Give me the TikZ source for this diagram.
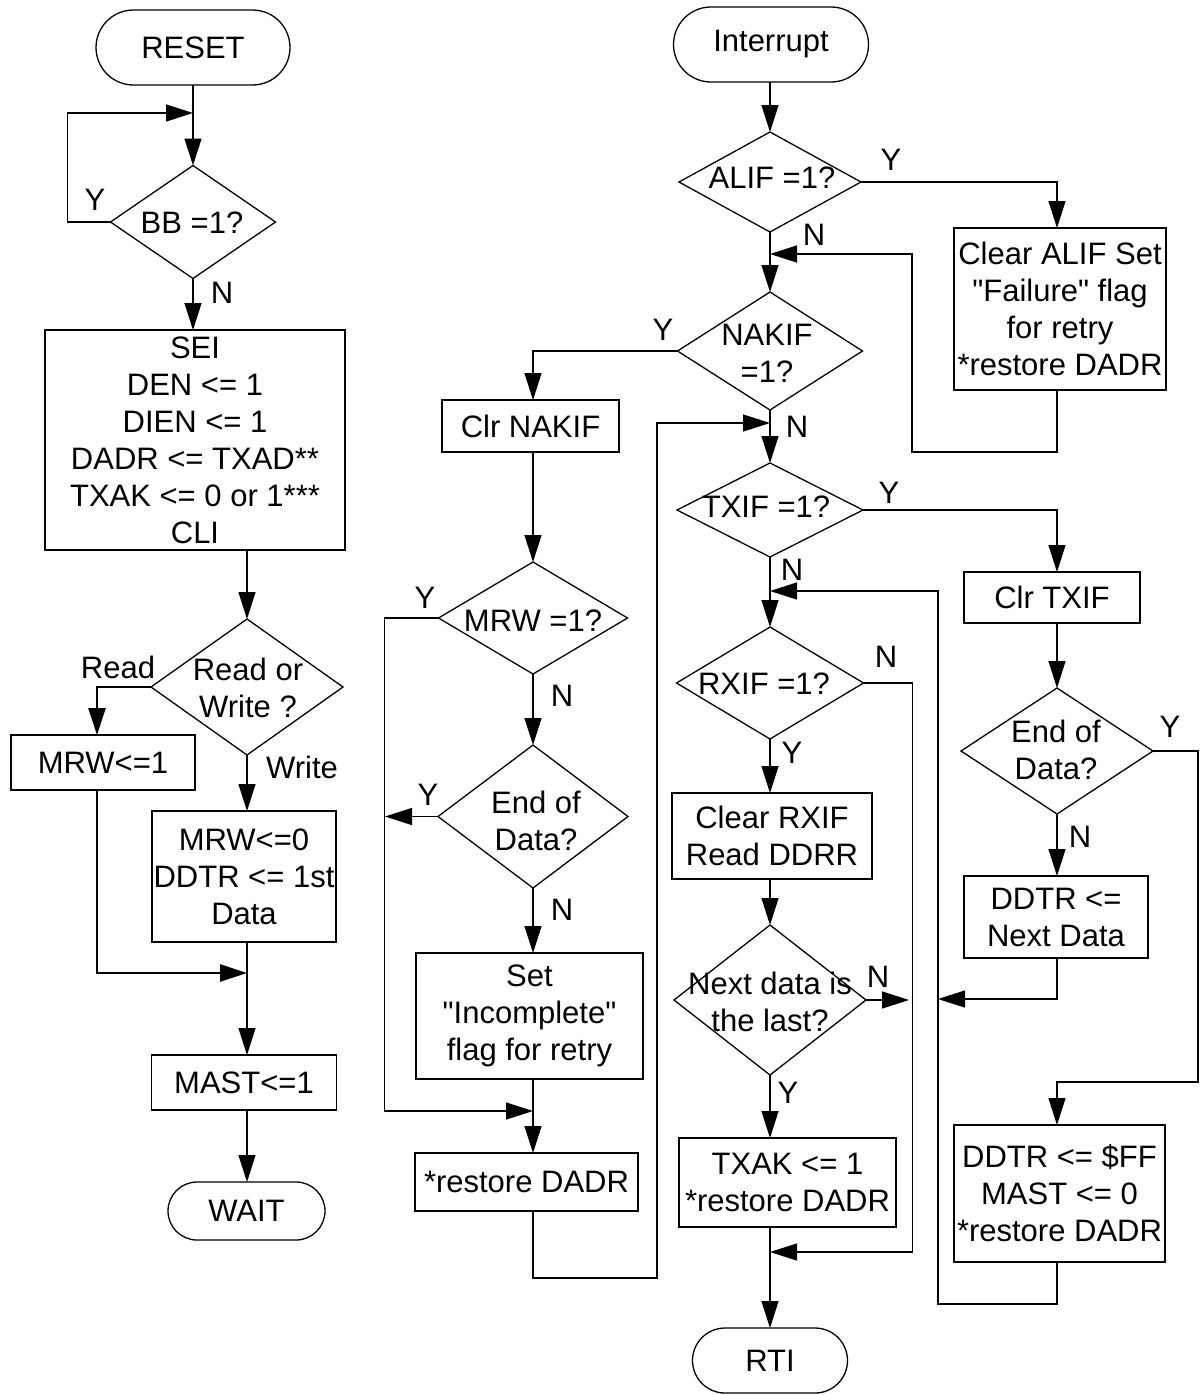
\documentclass[tikz,border=0pt]{standalone}
\usepackage{fontspec}
\setmainfont{Liberation Sans}
\usetikzlibrary{shapes.geometric,shapes.misc,arrows.meta}
\begin{document}
\begin{tikzpicture}[x=1pt,y=-1pt,
  every node/.style={font=\fontsize{31}{37}\selectfont, inner sep=0pt, outer sep=0pt},
  box/.style={rectangle, draw, line width=1.3pt, align=center},
  term/.style={rounded rectangle, draw, line width=1.3pt},
  dia/.style={diamond, draw, line width=1.3pt},
  txt/.style={align=center},
  arr/.style={line width=1.3pt, -{Triangle[length=27pt,width=17pt]}},
  tarr/.style={line width=2.6pt, -{Triangle[length=27pt,width=17pt]}},
]
\useasboundingbox (0,0) rectangle (1201,1395);

% ---------- left column ----------
\node[term, minimum width=194pt, minimum height=75pt] (reset) at (193,47.5) {RESET};
\node[dia, minimum width=165pt, minimum height=113pt] (bb) at (193,222) {};
\node[txt] (bbt) at (192,223) {BB =1?};
\node[box, minimum width=300pt, minimum height=220pt] (sei) at (195,440) {SEI\\DEN <= 1\\DIEN <= 1\\DADR <= TXAD**\\TXAK <= 0 or 1***\\CLI};
\node[dia, minimum width=192pt, minimum height=136pt] (rw) at (247,687) {};
\node[txt] (rwt) at (248,688) {Read or\\Write ?};
\node[box, minimum width=184pt, minimum height=55pt] (mrw1) at (103,762.5) {MRW<=1};
\node[box, minimum width=184pt, minimum height=131pt] (mrw0) at (244,876.5) {MRW<=0\\DDTR <= 1st\\Data};
\node[box, minimum width=185pt, minimum height=55pt] (mast) at (244,1082.5) {MAST<=1};
\node[term, minimum width=157pt, minimum height=58pt] (wait) at (246.5,1211) {WAIT};

% ---------- middle column ----------
\node[term, minimum width=195pt, minimum height=75pt] (intr) at (771,44.5) {Interrupt};
\node[dia, minimum width=182pt, minimum height=100pt] (alif) at (770,182) {};
\node[txt] (alift) at (772,178) {ALIF =1?};
\node[dia, minimum width=185pt, minimum height=118pt] (nakif) at (770,351) {};
\node[txt] (nakift) at (767,353) {NAKIF\\=1?};
\node[box, minimum width=177pt, minimum height=52pt] (clrnakif) at (530.5,426) {Clr NAKIF};
\node[dia, minimum width=189pt, minimum height=112pt] (mrw) at (533,618) {};
\node[txt] (mrwt) at (533,621) {MRW =1?};
\node[dia, minimum width=190pt, minimum height=143pt] (eod1) at (533,816.5) {};
\node[txt] (eod1t) at (536,821) {End of\\Data?};
\node[box, minimum width=227pt, minimum height=126pt] (setinc) at (529.5,1016) {Set\\\textquotedbl Incomplete\textquotedbl\\flag for retry};
\node[box, minimum width=223pt, minimum height=58pt] (restore1) at (526.5,1182) {*restore DADR};
\node[dia, minimum width=186pt, minimum height=94pt] (txif) at (770,510) {};
\node[txt] (txift) at (766,507) {TXIF =1?};
\node[dia, minimum width=187pt, minimum height=112pt] (rxif) at (770,683) {};
\node[txt] (rxift) at (764,684) {RXIF =1?};
\node[box, minimum width=200pt, minimum height=86pt] (clrrxif) at (772,836) {Clear RXIF\\Read DDRR};
\node[dia, minimum width=192pt, minimum height=150pt] (next) at (770,1000) {};
\node[txt] (nextt) at (770,1002) {Next data is\\the last?};
\node[box, minimum width=217pt, minimum height=89pt] (txak) at (787.5,1182.5) {TXAK <= 1\\*restore DADR};
\node[term, minimum width=155pt, minimum height=65pt] (rti) at (770,1360.5) {RTI};

% ---------- right column ----------
\node[box, minimum width=212pt, minimum height=162pt] (clralif) at (1060,309) {Clear ALIF Set\\\textquotedbl Failure\textquotedbl{} flag\\for retry\\*restore DADR};
\node[box, minimum width=176pt, minimum height=51pt] (clrtxif) at (1052,597.5) {Clr TXIF};
\node[dia, minimum width=192pt, minimum height=126pt] (eod2) at (1057,751) {};
\node[txt] (eod2t) at (1056,750) {End of\\Data?};
\node[box, minimum width=184pt, minimum height=82pt] (ddnext) at (1056,917) {DDTR <=\\Next Data};
\node[box, minimum width=211pt, minimum height=137pt] (ddff) at (1059.5,1193.5) {DDTR <= \$FF\\MAST <= 0\\*restore DADR};

% ---------- junction coordinates ----------
\coordinate (j1) at (193,113);
\coordinate (j2) at (247,973);
\coordinate (j3) at (770,254);
\coordinate (j4) at (533,1111);
\coordinate (j6) at (770,423);
\coordinate (j7) at (770,1252);
\coordinate (j9) at (938,999);
\coordinate (j10) at (770,591);
\coordinate (rx) at (1057,0);

% ---------- connectors: left ----------
\draw[arr] (reset.south) -- (bb.north);
\draw[arr] (bb.west) -- ++(-43,0) |- (j1);
\draw[arr] (bb.south) -- (bb.south |- sei.north);
\draw[arr] (sei.south -| rw.north) -- (rw.north);
\draw[tarr] (rw.west) -| ([xshift=-6pt]mrw1.north);
\draw[arr] (rw.south) -- (rw.south |- mrw0.north);
\draw[tarr] ([xshift=-6pt]mrw1.south) |- (j2);
\draw[arr] (mrw0.south -| j2) -- (j2 |- mast.north);
\draw[arr] (mast.south -| j2) -- (j2 |- wait.north);

% ---------- connectors: middle ----------
\draw[arr] (intr.south -| alif.north) -- (alif.north);
\draw[arr] (alif.east) -| (clralif.north -| rx);
\draw[arr] (alif.south) -- (nakif.north);
\draw[arr] (clralif.south -| rx) -- ++(0,62) -- ++(-145,0) |- (j3);
\draw[arr] (nakif.west) -| (clrnakif.north -| mrw.north);
\draw[arr] (clrnakif.south -| mrw.north) -- (mrw.north);
\draw[arr] (mrw.west) -- ++(-54,0) |- (j4);
\draw[arr] (mrw.south) -- (eod1.north);
\draw[arr] (eod1.west) -- ++(-53,0);
\draw[arr] (eod1.south) -- (eod1.south |- setinc.north);
\draw[arr] (setinc.south -| eod1.south) -- (eod1.south |- restore1.north);
\draw[arr] (restore1.south -| eod1.south) -- ++(0,67) -- ++(124,0) |- (j6);
\draw[arr] (nakif.south) -- (txif.north);
\draw[arr] (txif.east) -| (clrtxif.north -| rx);
\draw[arr] (txif.south) -- (rxif.north);
\draw[arr] (rxif.south) -- (rxif.south |- clrrxif.north);
\draw[arr] (rxif.east) -- ++(49,0) |- (j7);
\draw[arr] (clrrxif.south -| next.north) -- (next.north);
\draw[arr] (next.east) -- ++(43,0);
\draw[arr] (next.south) -- (next.south |- txak.north);
\draw[arr] (txak.south -| rti.north) -- (rti.north);

% ---------- connectors: right ----------
\draw[arr] (clrtxif.south -| rx) -- (eod2.north);
\draw[arr] (eod2.east) -- ++(45,0) |- ([yshift=43pt]ddff.north -| rx) -- (ddff.north -| rx);
\draw[arr] (eod2.south) -- (eod2.south |- ddnext.north);
\draw[arr] (ddnext.south -| rx) |- (j9);
\draw[arr] (ddff.south -| rx) -- ++(0,42) -- ++(-119,0) |- (j10);

% ---------- branch labels ----------
\node (l1) at (95,200) {Y};
\node (l2) at (222,293) {N};
\node (l3) at (118,667) {Read};
\node (l4) at (302,767) {Write};
\node (l5) at (891,160) {Y};
\node (l6) at (814,235) {N};
\node (l7) at (663,330) {Y};
\node (l8) at (797,427) {N};
\node (l9) at (425,598) {Y};
\node (l10) at (562,696) {N};
\node (l11) at (428,795) {Y};
\node (l12) at (562,910) {N};
\node (l13) at (889,493) {Y};
\node (l14) at (792,570) {N};
\node (l15) at (886,657) {N};
\node (l16) at (792,753) {Y};
\node (l17) at (878,977) {N};
\node (l18) at (788,1093) {Y};
\node (l19) at (1170,727) {Y};
\node (l20) at (1080,837) {N};
\end{tikzpicture}
\end{document}
